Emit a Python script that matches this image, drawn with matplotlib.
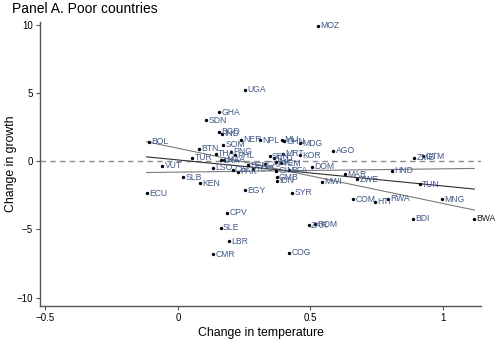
import numpy as np
import matplotlib
matplotlib.use('Agg')
import matplotlib.pyplot as plt

plt.rcParams['font.family'] = ['Liberation Sans', 'DejaVu Sans']

# страны (коды ISO) и изменения температуры / роста
codes = ['MOZ', 'UGA', 'GHA', 'SDN', 'BGD', 'IND', 'NER', 'NPL', 'MLI', 'CHN',
         'MDG', 'AGO', 'KOR', 'MRT', 'SEN', 'TCD', 'NIC', 'YEM', 'GIN', 'BFA',
         'DOM', 'BOL', 'BTN', 'SOM', 'TUR', 'THA', 'PNG', 'PHL', 'NGA', 'LKA',
         'LSO', 'CIV', 'PAK', 'BEN', 'TGO', 'CAF', 'GMB', 'IDN', 'VUT', 'SLB',
         'KEN', 'ECU', 'EGY', 'SYR', 'MWI', 'MAR', 'ZWE', 'HND', 'TUN', 'ZMB',
         'GTM', 'COM', 'HTI', 'RWA', 'MNG', 'BDI', 'BWA', 'ZAR', 'ROM', 'COG',
         'CMR', 'LBR', 'SLE', 'CPV']
d_temp = [0.529, 0.253, 0.156, 0.106, 0.156, 0.165, 0.237, 0.309, 0.391, 0.400,
          0.460, 0.586, 0.460, 0.396, 0.347, 0.362, 0.370, 0.389, 0.370, 0.419,
          0.504, -0.109, 0.080, 0.171, 0.055, 0.143, 0.200, 0.215, 0.174, 0.161,
          0.133, 0.206, 0.226, 0.263, 0.284, 0.328, 0.372, 0.372, -0.059, 0.020,
          0.083, -0.118, 0.253, 0.431, 0.542, 0.630, 0.677, 0.806, 0.913, 0.892,
          0.926, 0.662, 0.743, 0.794, 0.995, 0.886, 1.118, 0.494, 0.517, 0.420,
          0.133, 0.192, 0.161, 0.186]
d_growth = [9.94, 5.25, 3.59, 3.00, 2.15, 2.03, 1.59, 1.54, 1.58, 1.45,
            1.30, 0.75, 0.44, 0.55, 0.37, 0.22, -0.07, -0.15, -0.70, -0.66,
            -0.42, 1.41, 0.90, 1.19, 0.24, 0.56, 0.68, 0.44, 0.12, 0.07,
            -0.49, -0.61, -0.78, -0.29, -0.54, -0.22, -1.19, -1.44, -0.34, -1.19,
            -1.63, -2.34, -2.12, -2.32, -1.52, -0.95, -1.32, -0.71, -1.68, 0.24,
            0.37, -2.80, -2.98, -2.74, -2.80, -4.20, -4.20, -4.71, -4.62, -6.72,
            -6.81, -5.86, -4.88, -3.78]

# линии регрессии: (константа, наклон)
fit_const = [0.95, 0.094, -0.80]
fit_slope = [-4.05, -1.91, 0.243]
fit_color = ['#7a7a7a', '#2e2e2e', '#7a7a7a']

label_col = '#41598b'
axis_col = '#555555'

fig = plt.figure(figsize=(5.0, 3.39), dpi=100)
ax = fig.add_axes([0.08, 0.097, 0.882, 0.838])

ax.axhline(0, color='#8c8c8c', lw=1.0, ls=(0, (4, 3)), zorder=1)

xs = np.array([min(d_temp), max(d_temp)])
for c, s, col in zip(fit_const, fit_slope, fit_color):
    ax.plot(xs, c + s * xs, color=col, lw=0.8, zorder=2)

ax.scatter(d_temp, d_growth, s=6, color='black', zorder=3, linewidths=0)
for code, x, y in zip(codes, d_temp, d_growth):
    col = '#222222' if code == 'BWA' else label_col
    ax.annotate(code, (x, y), xytext=(1.6, 0), textcoords='offset points',
                fontsize=6.2, color=col, va='center', ha='left')

ax.set_xlim(-0.52, 1.143)
ax.set_ylim(-10.62, 10.2)
ax.set_xticks([-0.5, 0, 0.5, 1])
ax.set_xticklabels(['\u22120.5', '0', '0.5', '1'])
ax.set_yticks([-10, -5, 0, 5, 10])
ax.set_yticklabels(['\u221210', '\u22125', '0', '5', '10'])

for side in ['top', 'right']:
    ax.spines[side].set_visible(False)
for side in ['left', 'bottom']:
    ax.spines[side].set_color(axis_col)
    ax.spines[side].set_linewidth(1.0)
ax.tick_params(direction='out', length=3, width=0.8, color=axis_col,
               labelsize=7, pad=2)

ax.set_xlabel('Change in temperature', fontsize=8.8, labelpad=3)
ax.set_ylabel('Change in growth', fontsize=8.8)
ax.yaxis.set_label_coords(-0.052, 0.5)
fig.text(0.024, 0.972, 'Panel A. Poor countries', fontsize=10, va='center', ha='left')

fig.savefig('out.png', dpi=100)
